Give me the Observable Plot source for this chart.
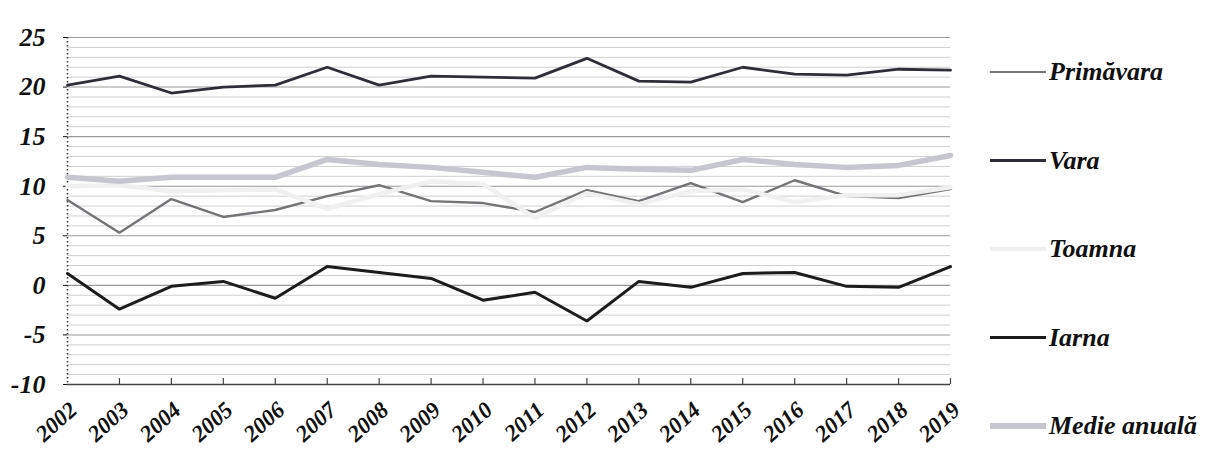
<!DOCTYPE html>
<html>
<head>
<meta charset="utf-8">
<script src="https://cdn.jsdelivr.net/npm/d3@7"></script>
<script src="https://cdn.jsdelivr.net/npm/@observablehq/plot@0.6"></script>
<style>
  html, body { margin: 0; padding: 0; background: #fff; }
  #wrap { position: relative; width: 1209px; height: 454px; overflow: hidden; }
  #legend { position: absolute; left: 990px; top: 0; }
  .item { position: absolute; left: 0; white-space: nowrap; display: flex; align-items: center;
          font-family: "Liberation Serif", "DejaVu Serif", serif; font-weight: bold; font-style: italic;
          font-size: 26px; color: #111; height: 30px; }
  .swatch { display: inline-block; width: 56px; margin-right: 3px; }
</style>
</head>
<body>
<div id="wrap"><div id="legend"></div></div>
<script>
// ---- data (°C) ----
const years = [2002, 2003, 2004, 2005, 2006, 2007, 2008, 2009, 2010, 2011, 2012, 2013, 2014, 2015, 2016, 2017, 2018, 2019];
const primavara = [8.6, 5.3, 8.7, 6.9, 7.6, 9.0, 10.1, 8.5, 8.3, 7.4, 9.6, 8.5, 10.3, 8.4, 10.6, 9.0, 8.8, 9.7];
const vara      = [20.2, 21.1, 19.4, 20.0, 20.2, 22.0, 20.2, 21.1, 21.0, 20.9, 22.9, 20.6, 20.5, 22.0, 21.3, 21.2, 21.8, 21.7];
const toamna    = [10.0, 10.1, 9.5, 9.6, 9.7, 7.7, 9.2, 10.5, 10.2, 6.8, 9.3, 8.2, 9.5, 9.7, 8.4, 9.1, 9.1, 9.9];
const iarna     = [1.2, -2.4, -0.1, 0.4, -1.3, 1.9, 1.3, 0.7, -1.5, -0.7, -3.6, 0.4, -0.2, 1.2, 1.3, -0.1, -0.2, 1.9];
const medie     = [10.9, 10.5, 10.9, 10.9, 10.9, 12.7, 12.2, 11.9, 11.4, 10.9, 11.9, 11.7, 11.6, 12.7, 12.2, 11.9, 12.1, 13.1];
const seriesNames = ["Primăvara", "Vara", "Toamna", "Iarna", "Medie anuală"];
const yTicks = [-10, -5, 0, 5, 10, 15, 20, 25];
const minorGrid = [-9,-8,-7,-6,-4,-3,-2,-1,1,2,3,4,6,7,8,9,11,12,13,14,16,17,18,19,21,22,23,24];
const majorGrid = [-5, 0, 5, 10, 15, 20, 25];

const valuesBySeries = [primavara, vara, toamna, iarna, medie];
const styles = [
  {stroke: "#747478", width: 2.4},
  {stroke: "#302d3a", width: 2.8},
  {stroke: "#f0f0f0", width: 4.5},
  {stroke: "#1c1c1c", width: 3},
  {stroke: "#c6c6d0", width: 5.5}
];
const rows = seriesNames.flatMap((s, i) => years.map((yr, j) => ({series: s, year: yr, value: valuesBySeries[i][j]})));

const font = {fontFamily: "Liberation Serif, DejaVu Serif, serif", fontWeight: "bold", fontStyle: "italic"};

const chart = Plot.plot({
  width: 1209,
  height: 454,
  marginLeft: 67,
  marginRight: 259,
  marginTop: 37,
  marginBottom: 70,
  x: {domain: [2002, 2019]},
  y: {domain: [-10, 25]},
  style: {background: "#fff", ...font, color: "#111"},
  marks: [
    Plot.ruleY(minorGrid, {stroke: "#cfcfcf", strokeWidth: 1}),
    Plot.ruleY(majorGrid, {stroke: "#999", strokeWidth: 1.1}),
    Plot.ruleX([2002], {stroke: "#333", strokeWidth: 1.5, strokeDasharray: "1.5,2.5"}),
    Plot.ruleY([-10], {stroke: "#444", strokeWidth: 1.5}),
    Plot.ruleX(years.slice(1), {x: d => d, y1: -10, y2: -9.4, stroke: "#444", strokeWidth: 1.2}),
    Plot.axisY({ticks: yTicks, tickSize: 4, tickPadding: 18, fontSize: 26, tickFormat: d => String(d), label: null}),
    Plot.axisX({ticks: years, tickSize: 0, tickPadding: 22, dx: 6, tickRotate: -42, fontSize: 23, tickFormat: d => String(d), label: null}),
    ...seriesNames.map((s, i) =>
      Plot.line(rows.filter(r => r.series === s), {x: "year", y: "value", stroke: styles[i].stroke, strokeWidth: styles[i].width, strokeLinejoin: "miter"})
    )
  ]
});
document.getElementById("wrap").prepend(chart);

// legend on the right
const legend = document.getElementById("legend");
seriesNames.forEach((s, i) => {
  const item = document.createElement("div");
  item.className = "item";
  item.style.top = (57 + i * 88.5) + "px";
  const sw = document.createElement("span");
  sw.className = "swatch";
  sw.style.height = styles[i].width + "px";
  sw.style.background = styles[i].stroke;
  item.appendChild(sw);
  item.appendChild(document.createTextNode(s));
  legend.appendChild(item);
});
</script>
</body>
</html>
